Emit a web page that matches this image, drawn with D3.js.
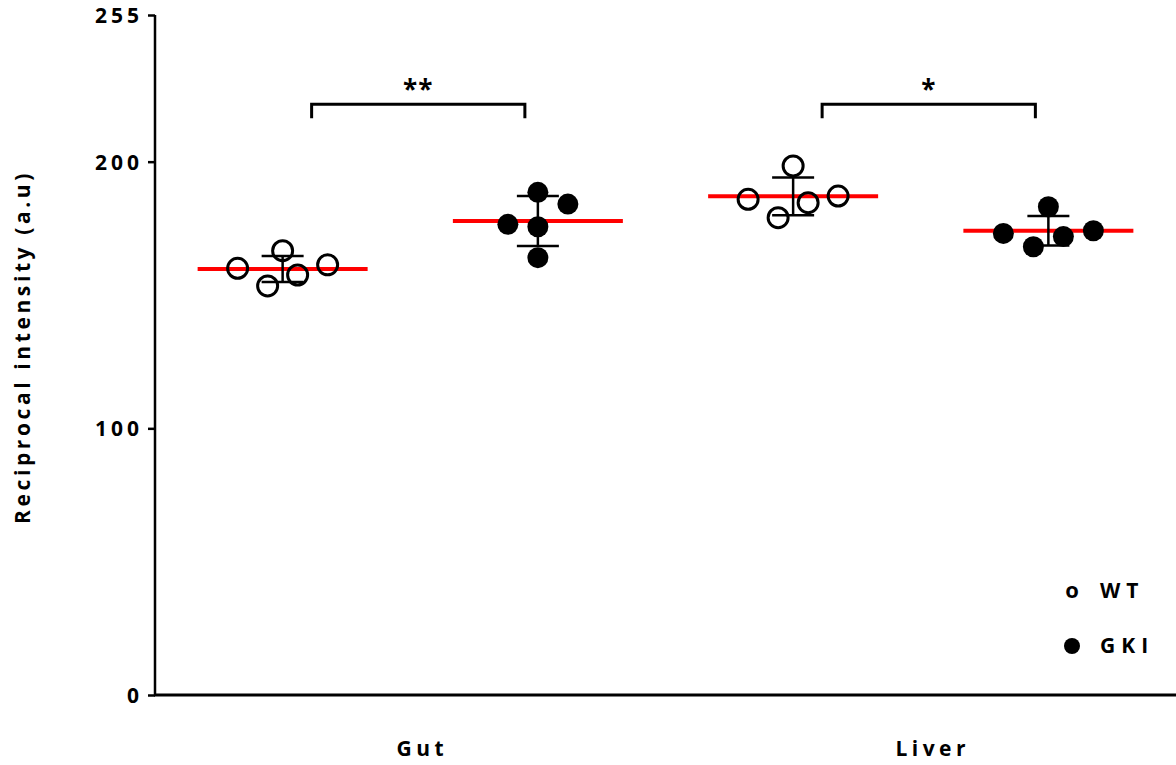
<!DOCTYPE html>
<html>
<head>
<meta charset="utf-8">
<script src="https://cdn.jsdelivr.net/npm/d3@7"></script>
<style>
  html, body { margin: 0; padding: 0; background: #fff; }
  text { font-family: "Open Sans", "Noto Sans", sans-serif; font-weight: bold; fill: #000; }
</style>
</head>
<body>
<div id="chart"></div>
<script>
// values
const categories = ["Gut", "Liver"];
const groups = ["WT", "GKI"];
const yTicks = [0, 100, 200, 255];

const gutWT = [160.0, 166.6, 153.4, 157.5, 161.3];
const gutGKI = [188.5, 184.1, 176.5, 175.6, 164.0];
const liverWT = [185.9, 198.4, 179.0, 184.6, 187.1];
const liverGKI = [183.1, 173.1, 168.1, 171.9, 174.1];

// scatter column of each point (graphpad style spreading)
const gutWTCol = [-1.5, 0, -0.5, 0.5, 1.5];
const gutGKICol = [0, 1, -1, 0, 0];
const liverWTCol = [-1.5, 0, -0.5, 0.5, 1.5];
const liverGKICol = [0, -1.5, -0.5, 0.5, 1.5];

const bracketLevel = 221.5;
const sigLabels = ["**", "*"];

const series = [
  { category: "Gut", group: "WT", values: gutWT, cols: gutWTCol },
  { category: "Gut", group: "GKI", values: gutGKI, cols: gutGKICol },
  { category: "Liver", group: "WT", values: liverWT, cols: liverWTCol },
  { category: "Liver", group: "GKI", values: liverGKI, cols: liverGKICol }
];

const width = 1176, height = 765;
const margin = { top: 15, right: 0, bottom: 70, left: 155 };

const svg = d3.select("#chart").append("svg")
  .attr("width", width)
  .attr("height", height);

const x = d3.scaleBand()
  .domain(categories)
  .range([margin.left, width - margin.right]);

const xSub = d3.scaleBand()
  .domain(groups)
  .range([0, x.bandwidth()]);

const colScale = d3.scaleLinear().domain([0, 1]).range([0, 30]);

const y = d3.scaleLinear()
  .domain([0, 255])
  .range([height - margin.bottom, margin.top]);

const cx = (d) => x(d.category) + xSub(d.group) + xSub.bandwidth() / 2;

// y axis
const yAxis = svg.append("g")
  .attr("transform", "translate(" + margin.left + ",0)")
  .call(d3.axisLeft(y).tickValues(yTicks).tickSize(7).tickPadding(9).tickFormat(d3.format("d")));
yAxis.select(".domain").attr("stroke", "#000").attr("stroke-width", 2.5).attr("d", "M0," + y(0) + "V" + y(255));
yAxis.selectAll(".tick line").attr("stroke", "#000").attr("stroke-width", 2.5);
yAxis.selectAll(".tick text")
  .style("font-size", "21px")
  .style("letter-spacing", "4px")
  .attr("dx", "4px")
  .attr("dy", "0.35em");

// x axis line
svg.append("line")
  .attr("x1", margin.left - 1)
  .attr("x2", width)
  .attr("y1", y(0))
  .attr("y2", y(0))
  .attr("stroke", "#000")
  .attr("stroke-width", 3);

svg.append("g").selectAll("text")
  .data(categories)
  .enter().append("text")
    .attr("x", d => x(d) + x.bandwidth() / 2 + 12)
    .attr("y", 756)
    .attr("text-anchor", "middle")
    .style("font-size", "21px")
    .style("letter-spacing", "4.5px")
    .text(d => d);

// y title
svg.append("text")
  .attr("transform", "translate(30," + 347 + ") rotate(-90)")
  .attr("text-anchor", "middle")
  .style("font-size", "21px")
  .style("letter-spacing", "3.6px")
  .text("Reciprocal intensity (a.u)");

// mean lines
svg.append("g").selectAll("line")
  .data(series)
  .enter().append("line")
    .attr("x1", d => cx(d) - 85)
    .attr("x2", d => cx(d) + 85)
    .attr("y1", d => y(d3.mean(d.values)))
    .attr("y2", d => y(d3.mean(d.values)))
    .attr("stroke", "#ff0000")
    .attr("stroke-width", 4);

// error bars (SD)
const err = svg.append("g").selectAll("g")
  .data(series)
  .enter().append("g")
    .attr("stroke", "#000")
    .attr("stroke-width", 2.5);
err.append("line")
  .attr("x1", d => cx(d)).attr("x2", d => cx(d))
  .attr("y1", d => y(d3.mean(d.values) + d3.deviation(d.values)))
  .attr("y2", d => y(d3.mean(d.values) - d3.deviation(d.values)));
err.append("line")
  .attr("x1", d => cx(d) - 21).attr("x2", d => cx(d) + 21)
  .attr("y1", d => y(d3.mean(d.values) + d3.deviation(d.values)))
  .attr("y2", d => y(d3.mean(d.values) + d3.deviation(d.values)));
err.append("line")
  .attr("x1", d => cx(d) - 21).attr("x2", d => cx(d) + 21)
  .attr("y1", d => y(d3.mean(d.values) - d3.deviation(d.values)))
  .attr("y2", d => y(d3.mean(d.values) - d3.deviation(d.values)));

// points
const pts = series.flatMap(s => s.values.map((v, i) => ({ ...s, value: v, col: s.cols[i] })));
svg.append("g").selectAll("circle")
  .data(pts)
  .enter().append("circle")
    .attr("cx", d => cx(d) + colScale(d.col))
    .attr("cy", d => y(d.value))
    .attr("r", d => d.group === "WT" ? 10 : 10.5)
    .attr("fill", d => d.group === "WT" ? "none" : "#000")
    .attr("stroke", d => d.group === "WT" ? "#000" : "none")
    .attr("stroke-width", 3);

// significance brackets
categories.forEach((c, i) => {
  const x1 = x(c) + xSub("WT") + xSub.bandwidth() / 2 + 29;
  const x2 = x(c) + xSub("GKI") + xSub.bandwidth() / 2 - 13;
  const yb = y(bracketLevel);
  svg.append("path")
    .attr("d", "M" + x1 + "," + (yb + 14) + "V" + yb + "H" + x2 + "V" + (yb + 14))
    .attr("fill", "none")
    .attr("stroke", "#000")
    .attr("stroke-width", 3);
  svg.append("text")
    .attr("x", (x1 + x2) / 2)
    .attr("y", yb - 5)
    .attr("text-anchor", "middle")
    .style("font-size", "26px")
    .style("letter-spacing", "1px")
    .text(sigLabels[i]);
});

// legend
const legend = svg.append("g");
legend.append("text")
  .attr("x", 1072).attr("y", 590)
  .attr("dy", "0.35em")
  .attr("text-anchor", "middle")
  .style("font-size", "22px")
  .text("o");
legend.append("circle")
  .attr("cx", 1072).attr("cy", 646).attr("r", 8).attr("fill", "#000");
legend.selectAll(".lbl")
  .data(groups)
  .enter().append("text")
    .attr("x", 1100)
    .attr("y", (d, i) => 591 + i * 55)
    .attr("dy", "0.35em")
    .style("font-size", "21px")
    .style("letter-spacing", "6px")
    .text(d => d);
</script>
</body>
</html>
